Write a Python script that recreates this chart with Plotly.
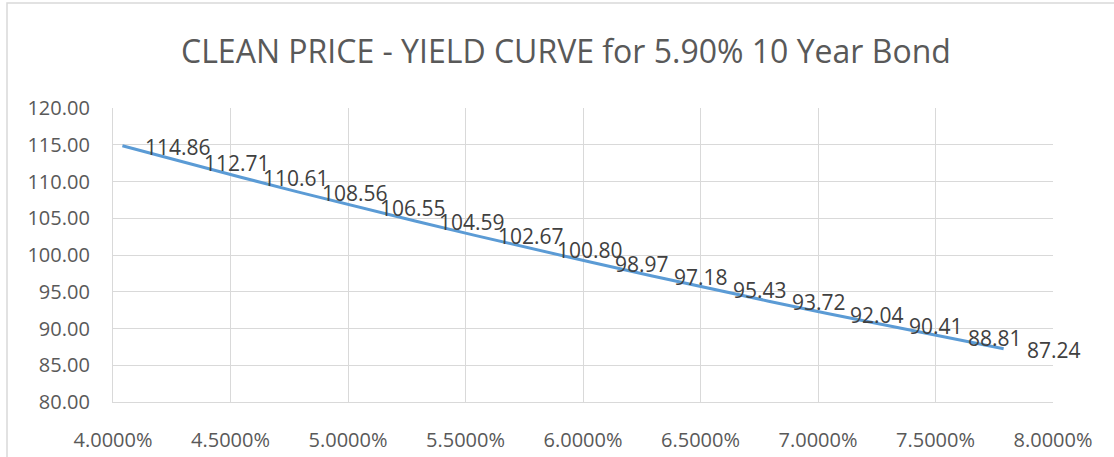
import plotly.graph_objects as go

yields = [4.04, 4.29, 4.54, 4.79, 5.04, 5.29, 5.54, 5.79, 6.04, 6.29, 6.54, 6.79, 7.04, 7.29, 7.54, 7.79]
prices = [114.86, 112.71, 110.61, 108.56, 106.55, 104.59, 102.67, 100.80, 98.97, 97.18,
          95.43, 93.72, 92.04, 90.41, 88.81, 87.24]
x_ticks = [4.0, 4.5, 5.0, 5.5, 6.0, 6.5, 7.0, 7.5, 8.0]
x_tick_labels = ["4.0000%", "4.5000%", "5.0000%", "5.5000%", "6.0000%", "6.5000%", "7.0000%", "7.5000%", "8.0000%"]
y_ticks = [80, 85, 90, 95, 100, 105, 110, 115, 120]
y_tick_labels = ["%.2f" % v for v in y_ticks]
title = "CLEAN PRICE - YIELD CURVE for 5.90% 10 Year Bond"

FONT = "Open Sans"

fig = go.Figure()
fig.add_trace(go.Scatter(x=yields, y=prices, mode="lines",
                         line=dict(color="#5b9bd5", width=3), hoverinfo="skip", showlegend=False))

annotations = []
for xv, yv in zip(yields, prices):
    annotations.append(dict(x=xv, y=yv, xref="x", yref="y", text="%.2f" % yv,
                            showarrow=False, xanchor="left", yanchor="middle", xshift=21, yshift=-1,
                            font=dict(family=FONT, size=21, color="#404040")))
annotations.append(dict(x=(566 - 113) / 940, y=(402 - 51) / 294, xref="paper", yref="paper", text=title,
                        showarrow=False, xanchor="center", yanchor="middle",
                        font=dict(family=FONT, size=32, color="#595959")))

fig.update_layout(
    width=1114, height=457,
    margin=dict(l=113, r=61, t=108, b=55, autoexpand=False),
    paper_bgcolor="white", plot_bgcolor="white",
    annotations=annotations,
    xaxis=dict(range=[4.0, 8.0], tickvals=x_ticks, ticktext=x_tick_labels,
               showgrid=True, gridcolor="#d9d9d9", gridwidth=1.3, automargin=False,
               showline=True, linecolor="#d9d9d9", linewidth=1.3, zeroline=False,
               ticks="", ticklabelstandoff=20,
               tickfont=dict(family=FONT, size=20, color="#595959")),
    yaxis=dict(range=[80, 120], tickvals=y_ticks, ticktext=y_tick_labels,
               showgrid=True, gridcolor="#d9d9d9", gridwidth=1.3, automargin=False,
               showline=True, linecolor="#d9d9d9", linewidth=1.3, zeroline=False,
               ticks="", ticklabelstandoff=18,
               tickfont=dict(family=FONT, size=20, color="#595959")),
    shapes=[dict(type="rect", xref="paper", yref="paper",
                 x0=(7 - 113) / 940, x1=1.2, y0=-0.3, y1=(402 - 3) / 294,
                 line=dict(color="#d9d9d9", width=1.5), fillcolor="rgba(0,0,0,0)", layer="below")],
)

fig.write_html("out.html", config={"displayModeBar": False},
               post_script="document.body.style.margin='0';document.body.style.overflow='hidden';")
